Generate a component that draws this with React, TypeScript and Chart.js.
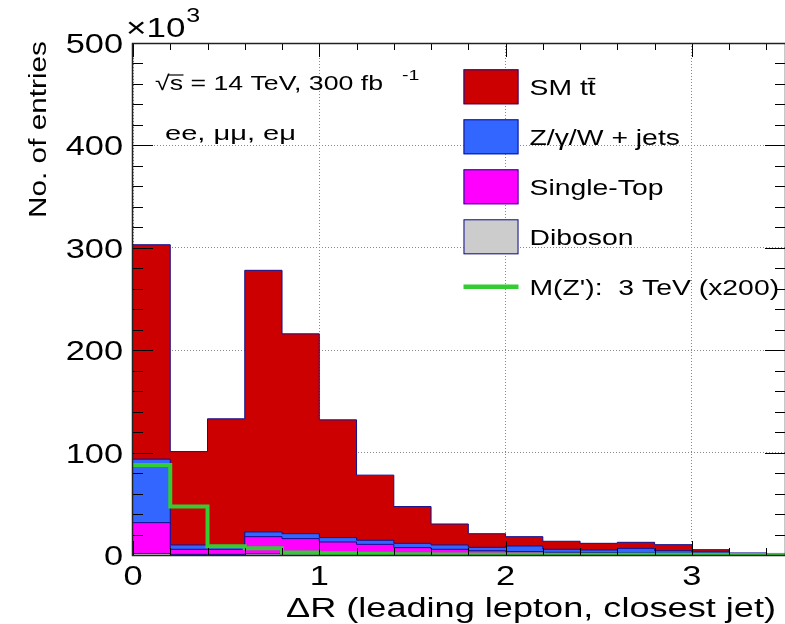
import { useEffect, useRef } from 'react';
import { Chart, registerables } from 'chart.js';

Chart.register(...registerables);

// Histogram binning in ΔR (lower bin edges, fixed width)
const BIN_LOW = [0.0, 0.2, 0.4, 0.6, 0.8, 1.0, 1.2, 1.4, 1.6, 1.8, 2.0, 2.2, 2.4, 2.6, 2.8, 3.0, 3.2, 3.4];
const BIN_WIDTH = 0.2;

// Entries per bin, in units of 10^3
const TTBAR = [209.4, 91.2, 123.9, 255.5, 195.2, 115.0, 63.6, 35.9, 20.5, 13.3, 9.1, 7.8, 6.5, 5.9, 5.9, 2.3, 0.8, 0.7];
const ZJETS = [62.0, 4.2, 3.5, 4.6, 4.8, 4.3, 4.0, 4.2, 4.2, 3.3, 5.5, 3.0, 2.6, 4.5, 2.5, 1.7, 0.6, 0.4];
const SINGLE_TOP = [30.1, 5.0, 5.0, 16.7, 14.8, 11.7, 9.6, 6.6, 5.1, 3.8, 2.9, 2.3, 2.0, 1.7, 1.5, 1.0, 0.5, 0.3];
const DIBOSON = [1.5, 0.6, 0.6, 1.2, 1.2, 1.0, 0.8, 0.6, 0.5, 0.4, 0.4, 0.3, 0.3, 0.3, 0.2, 0.2, 0.1, 0.1];
const ZPRIME_X200 = [88.0, 47.3, 8.5, 6.5, 2.5, 1.8, 1.2, 0.8, 0.6, 0.5, 0.4, 0.3, 0.3, 0.2, 0.2, 0.2, 0.1, 0.1];

// Axis labelling
const X_TICKS = [0, 1, 2, 3];
const Y_TICKS = [0, 100, 200, 300, 400, 500];
const X_MAX = 3.5;
const Y_MAX = 500;
const X_TITLE = 'ΔR (leading lepton, closest jet)';
const Y_TITLE = 'No. of entries';
const Y_EXPONENT = '3';
const INFO_LINE_1 = '√s = 14 TeV, 300 fb';
const INFO_LINE_1_SUP = '-1';
const INFO_LINE_2 = 'ee, μμ, eμ';

// Series labels
const LABEL_TTBAR = 'SM tt\u0304';
const LABEL_ZJETS = 'Z/γ/W + jets';
const LABEL_SINGLE_TOP = 'Single-Top';
const LABEL_DIBOSON = 'Diboson';
const LABEL_ZPRIME = "M(Z'):  3 TeV (x200)";

const RED = '#cc0000';
const BLUE = '#3366ff';
const MAGENTA = '#ff00ff';
const GREY = '#cccccc';
const GREEN = '#33cc33';
const OUTLINE = '#101090';

const FONT = '"Liberation Sans", Arial, Helvetica, sans-serif';
const STRETCH = 1.3;

function sum(a: number[], b: number[]) {
  return a.map((v, i) => v + b[i]);
}

// Stack from the bottom: diboson, single top, Z/γ/W + jets, ttbar
const STACK_DIBOSON = DIBOSON;
const STACK_SINGLE_TOP = sum(STACK_DIBOSON, SINGLE_TOP);
const STACK_ZJETS = sum(STACK_SINGLE_TOP, ZJETS);
const STACK_TTBAR = sum(STACK_ZJETS, TTBAR);

// Step points at the lower bin edges, closed at the upper edge of the last bin
function histPoints(values: number[]) {
  const pts = values.map((v, i) => ({ x: BIN_LOW[i], y: v }));
  pts.push({ x: BIN_LOW[BIN_LOW.length - 1] + BIN_WIDTH, y: values[values.length - 1] });
  return pts;
}

type TextOpts = { align?: CanvasTextAlign; sx?: number; width?: number; angle?: number };

function drawText(ctx: CanvasRenderingContext2D, str: string, x: number, y: number, size: number, opts: TextOpts = {}) {
  ctx.save();
  ctx.font = `${size}px ${FONT}`;
  ctx.textAlign = opts.align ?? 'left';
  ctx.textBaseline = 'alphabetic';
  ctx.fillStyle = '#000';
  const w = ctx.measureText(str).width;
  const sx = opts.width ? opts.width / w : opts.sx ?? STRETCH;
  ctx.translate(x, y);
  if (opts.angle) ctx.rotate(opts.angle);
  ctx.scale(sx, 1);
  ctx.fillText(str, 0, 0);
  ctx.restore();
  return { sx, width: w * sx };
}

const framePlugin = {
  id: 'histFrame',
  afterDatasetsDraw(chart: any) {
    const ctx: CanvasRenderingContext2D = chart.ctx;
    const { left, right, top, bottom } = chart.chartArea;
    const xs = chart.scales.x;
    const ys = chart.scales.y;

    ctx.save();
    // inward tick marks on all four sides
    ctx.strokeStyle = '#000';
    ctx.lineWidth = 1;
    ctx.beginPath();
    for (let v = 0; v <= Y_MAX; v += 20) {
      const y = Math.round(ys.getPixelForValue(v)) + 0.5;
      const len = v % 100 === 0 ? 20 : 10;
      ctx.moveTo(left, y);
      ctx.lineTo(left + len, y);
      ctx.moveTo(right, y);
      ctx.lineTo(right - len, y);
    }
    for (let i = 0; i * BIN_WIDTH <= X_MAX + 1e-9; i++) {
      const x = Math.round(xs.getPixelForValue(i * BIN_WIDTH)) + 0.5;
      const len = i % 5 === 0 ? 14 : 7;
      ctx.moveTo(x, bottom);
      ctx.lineTo(x, bottom - len);
      ctx.moveTo(x, top);
      ctx.lineTo(x, top + len);
    }
    ctx.stroke();

    // frame
    ctx.strokeStyle = '#222';
    ctx.lineWidth = 1.5;
    ctx.strokeRect(left - 0.5, top + 0.5, right - left + 1, bottom - top);
    ctx.restore();

    // tick labels
    for (const v of Y_TICKS) {
      drawText(ctx, String(v), left - 10, ys.getPixelForValue(v) + 10, 27.5, { align: 'right', sx: 1.25 });
    }
    for (const v of X_TICKS) {
      drawText(ctx, String(v), xs.getPixelForValue(v), bottom + 30, 27.5, { align: 'center', sx: 1.25 });
    }
    const exp = drawText(ctx, '×10', left - 7, top - 6, 28, { sx: 1.25 });
    drawText(ctx, Y_EXPONENT, left - 7 + exp.width + 1, top - 21, 20, { sx: 1.25 });

    // axis titles
    drawText(ctx, X_TITLE, right - 9, bottom + 62, 27, { align: 'right', width: 490 });
    drawText(ctx, Y_TITLE, 45.5, top + 175, 23, { angle: -Math.PI / 2, width: 177 });

    // process / luminosity text
    const infoX = left + 22;
    const infoY = top + 47;
    const infoSize = 21;
    ctx.save();
    const info = drawText(ctx, INFO_LINE_1, infoX, infoY, infoSize, { width: 228 });
    ctx.font = `${infoSize}px ${FONT}`;
    const radW = ctx.measureText('√').width * info.sx;
    const radSW = ctx.measureText('√s').width * info.sx;
    ctx.strokeStyle = '#000';
    ctx.lineWidth = 1.2;
    ctx.beginPath();
    ctx.moveTo(infoX + radW - 1.5, infoY - 15);
    ctx.lineTo(infoX + radSW + 0.5, infoY - 15);
    ctx.stroke();
    ctx.restore();
    drawText(ctx, INFO_LINE_1_SUP, infoX + info.width + 19, infoY - 10, 15, { sx: 1.3 });
    drawText(ctx, INFO_LINE_2, infoX + 10, infoY + 49.5, 21, { width: 131 });

    // legend
    const ds = chart.data.datasets;
    const legendOrder = [0, 1, 2, 3, 4];
    const boxX = 463.5;
    const boxW = 55;
    const boxH = 35;
    legendOrder.forEach((di, row) => {
      const d = ds[di];
      const cy = 86.8 + row * 50;
      ctx.save();
      if (d.fill) {
        ctx.fillStyle = d.backgroundColor;
        ctx.fillRect(boxX, cy - boxH / 2, boxW, boxH);
        ctx.strokeStyle = OUTLINE;
        ctx.lineWidth = 1;
        ctx.strokeRect(boxX + 0.5, cy - boxH / 2 + 0.5, boxW - 1, boxH - 1);
      } else {
        ctx.strokeStyle = d.borderColor;
        ctx.lineWidth = 4.5;
        ctx.beginPath();
        ctx.moveTo(boxX, cy);
        ctx.lineTo(boxX + boxW, cy);
        ctx.stroke();
      }
      ctx.restore();
      drawText(ctx, d.label, 529.5, cy + 8.5, 22.5, { sx: 1.26 });
    });
  },
};

export default function App() {
  const canvasRef = useRef<HTMLCanvasElement>(null);

  useEffect(() => {
    const canvas = canvasRef.current;
    if (!canvas) return;
    const layer = (label: string, values: number[], color: string, order: number) => ({
      label,
      data: histPoints(values),
      stepped: true,
      fill: 'origin',
      backgroundColor: color,
      borderColor: OUTLINE,
      borderWidth: 1,
      pointRadius: 0,
      order,
    });
    const chart = new Chart(canvas, {
      type: 'line',
      data: {
        datasets: [
          layer(LABEL_TTBAR, STACK_TTBAR, RED, 5),
          layer(LABEL_ZJETS, STACK_ZJETS, BLUE, 4),
          layer(LABEL_SINGLE_TOP, STACK_SINGLE_TOP, MAGENTA, 3),
          layer(LABEL_DIBOSON, STACK_DIBOSON, GREY, 2),
          {
            label: LABEL_ZPRIME,
            data: histPoints(ZPRIME_X200),
            stepped: true,
            fill: false,
            borderColor: GREEN,
            backgroundColor: GREEN,
            borderWidth: 4,
            pointRadius: 0,
            order: 1,
          },
        ] as any,
      },
      options: {
        responsive: false,
        animation: false,
        devicePixelRatio: 1,
        layout: { autoPadding: false, padding: { left: 133, top: 43, right: 0, bottom: 69 } },
        plugins: { legend: { display: false }, tooltip: { enabled: false } },
        events: [],
        scales: {
          x: {
            type: 'linear',
            min: 0,
            max: X_MAX,
            ticks: { display: false, stepSize: 1 },
            grid: { color: '#888', lineWidth: 1, drawTicks: false },
            border: { display: false, dash: [1, 2] },
          },
          y: {
            type: 'linear',
            min: 0,
            max: Y_MAX,
            ticks: { display: false, stepSize: 100 },
            grid: { color: '#888', lineWidth: 1, drawTicks: false },
            border: { display: false, dash: [1, 2] },
          },
        },
      },
      plugins: [framePlugin],
    });
    return () => chart.destroy();
  }, []);

  return (
    <div style={{ position: 'absolute', left: 0, top: 0, width: 785, height: 624, background: '#fff' }}>
      <canvas ref={canvasRef} width={785} height={624} style={{ display: 'block', width: 785, height: 624 }} />
    </div>
  );
}
